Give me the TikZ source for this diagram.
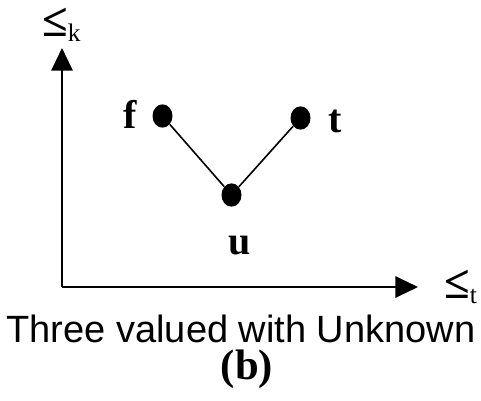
\documentclass[tikz,border=0pt]{standalone}
\usepackage{fontspec}
\setmainfont{Liberation Serif}
\newfontfamily\capfont{Liberation Sans}
\usetikzlibrary{arrows.meta,shapes.geometric}
\begin{document}
\begin{tikzpicture}[x=0.75pt,y=-0.75pt,
  dotnode/.style={ellipse,fill=black,inner sep=0pt,minimum width=15pt,minimum height=17.5pt},
  lbl/.style={inner sep=0pt,font=\fontsize{30}{30}\selectfont\bfseries},
  axis/.style={line width=1.6pt,-{Triangle[length=17pt,width=16pt]}},
  link/.style={line width=1.2pt}]
\useasboundingbox (0,0) rectangle (481,400);
\coordinate (o) at (62,287);
\coordinate (ky) at (62,48);
\coordinate (tx) at (418,287);
\draw[axis] (o) -- (ky);
\draw[axis] (o) -- (tx);
\node[dotnode] (f) at (162.5,116) {};
\node[dotnode] (t) at (300.5,118) {};
\node[dotnode] (u) at (231.5,195) {};
\draw[link] (f) -- (u) -- (t);
\node[lbl] (fl) at (130,114) {f};
\node[lbl] (tl) at (335,121) {t};
\node[lbl] (ul) at (240,246) {u};
\node[inner sep=0pt,anchor=south west] (kl) at (42,42) {\fontsize{35}{35}\selectfont\bfseries ≤\raisebox{-4pt}{\fontsize{19}{19}\selectfont\mdseries k}};
\node[inner sep=0pt,anchor=south west] (tlab) at (444,304) {\fontsize{35}{35}\selectfont\bfseries ≤\raisebox{-4pt}{\fontsize{19}{19}\selectfont\mdseries t}};
\node[inner sep=0pt,anchor=base] (cap) at (241,342) {\capfont\fontsize{28.5}{28.5}\selectfont Three valued with Unknown};
\node[inner sep=0pt] (b) at (247,369) {\fontsize{32}{32}\selectfont\bfseries (b)};
\end{tikzpicture}
\end{document}
